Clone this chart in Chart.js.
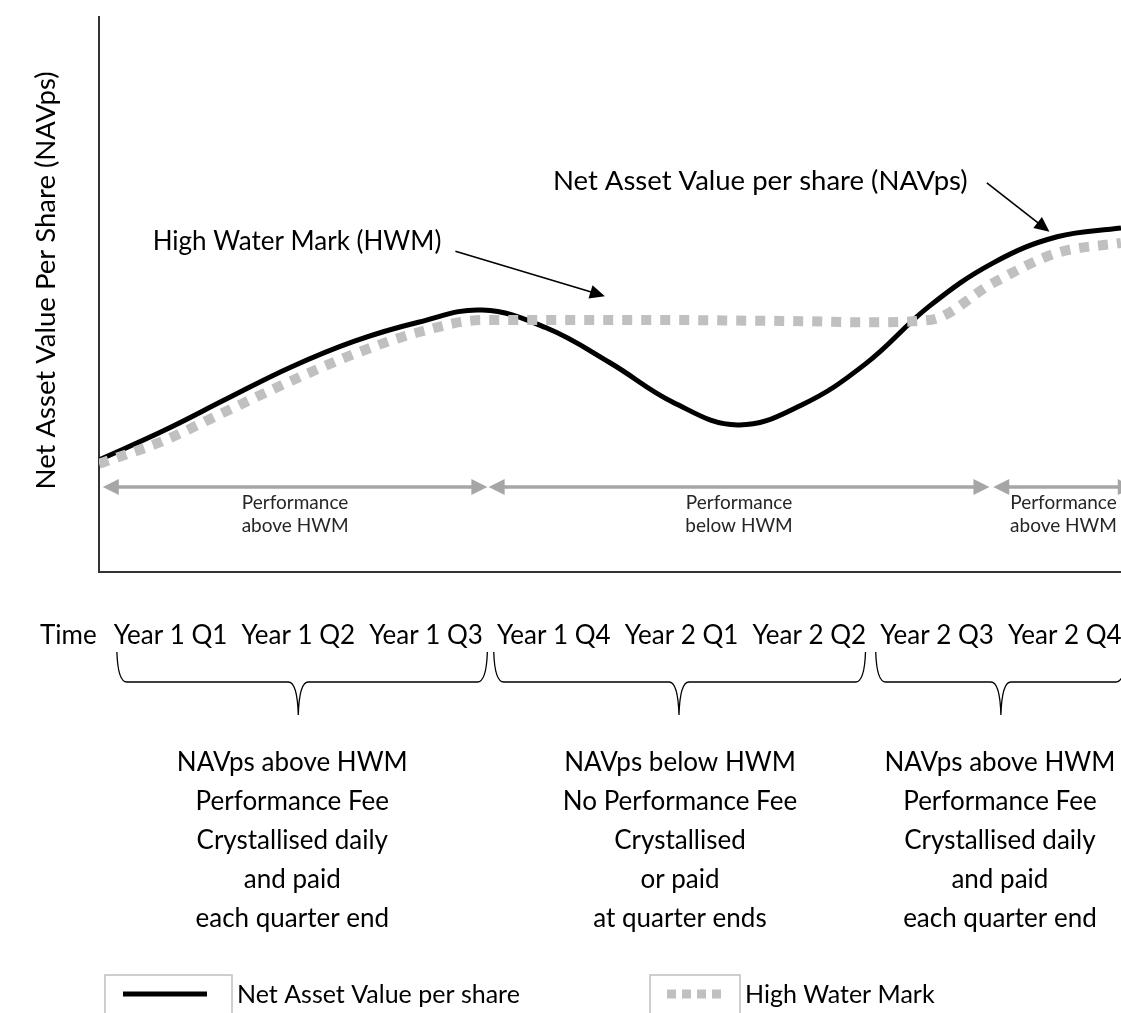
<!DOCTYPE html>
<html>
<head>
<meta charset="utf-8">
<title>NAVps and High Water Mark</title>
<script src="https://cdn.jsdelivr.net/npm/chart.js@4.4.1/dist/chart.umd.min.js"></script>
<style>
  html, body { margin: 0; padding: 0; background: #fff; }
  #wrap { width: 1121px; height: 1013px; }
</style>
</head>
<body>
<div id="wrap"><canvas id="hwmChart" width="1121" height="1013"></canvas></div>
<script>
// posisi waktu dalam kuartal (0 = awal Year 1 Q1)
const quarterPos = [0, 0.5, 1, 1.5, 2, 2.5, 3, 3.5, 4, 4.5, 5, 5.5, 6, 6.5, 7, 7.5, 8];
const navValues = [20.2, 25.4, 31.2, 36.9, 41.6, 45.0, 47.2, 44.0, 37.7, 30.5, 26.5, 30.1, 37.5, 47.9, 55.7, 60.4, 62.0];
const hwmValues = [19.5, 23.6, 29.0, 34.4, 39.3, 43.2, 45.4, 45.4, 45.4, 45.4, 45.3, 45.2, 45.0, 45.4, 52.1, 57.5, 59.3];

const quarterLabels = ['Year 1 Q1', 'Year 1 Q2', 'Year 1 Q3', 'Year 1 Q4', 'Year 2 Q1', 'Year 2 Q2', 'Year 2 Q3', 'Year 2 Q4'];
const quarterLabelPos = [0.56, 1.56, 2.56, 3.56, 4.56, 5.56, 6.56, 7.56];

const zoneRanges = [[0.03, 3.04], [3.05, 6.97], [7.0, 8.1]];
const zoneTexts = [['Performance', 'above HWM'], ['Performance', 'below HWM'], ['Performance', 'above HWM']];

// [awal, tengah, akhir] tiap kurung kurawal
const braceRanges = [[0.14, 1.56, 3.04], [3.09, 4.54, 6.0], [6.08, 7.06, 8.04]];
const feeNotes = [
  ['NAVps above HWM', 'Performance Fee', 'Crystallised daily', 'and paid', 'each quarter end'],
  ['NAVps below HWM', 'No Performance Fee', 'Crystallised', 'or paid', 'at quarter ends'],
  ['NAVps above HWM', 'Performance Fee', 'Crystallised daily', 'and paid', 'each quarter end']
];

const FONT = 'Lato, "Open Sans", sans-serif';

function arrowHead(ctx, x1, y1, x2, y2, len, half, color) {
  const a = Math.atan2(y2 - y1, x2 - x1);
  ctx.fillStyle = color;
  ctx.beginPath();
  ctx.moveTo(x2, y2);
  ctx.lineTo(x2 - len * Math.cos(a) + half * Math.sin(a), y2 - len * Math.sin(a) - half * Math.cos(a));
  ctx.lineTo(x2 - len * Math.cos(a) - half * Math.sin(a), y2 - len * Math.sin(a) + half * Math.cos(a));
  ctx.closePath();
  ctx.fill();
}

// Plugin untuk anotasi, kurung kurawal dan legenda
const extrasPlugin = {
  id: 'extras',
  afterDatasetsDraw(chart) {
    const ctx = chart.ctx;
    const xs = chart.scales.x, ys = chart.scales.y;
    ctx.save();

    // panah abu-abu dua arah
    const yArrow = ys.getPixelForValue(15.3);
    zoneRanges.forEach((r, i) => {
      const x1 = xs.getPixelForValue(r[0]), x2 = xs.getPixelForValue(r[1]);
      ctx.strokeStyle = '#a6a6a6';
      ctx.lineWidth = 3.5;
      ctx.beginPath();
      ctx.moveTo(x1 + 12, yArrow);
      ctx.lineTo(x2 - 12, yArrow);
      ctx.stroke();
      arrowHead(ctx, x2 - 14, yArrow, x1, yArrow, 16, 8, '#a6a6a6');
      arrowHead(ctx, x1 + 14, yArrow, x2, yArrow, 16, 8, '#a6a6a6');
      ctx.fillStyle = '#262626';
      ctx.font = '19px ' + FONT;
      ctx.textAlign = 'center';
      ctx.textBaseline = 'middle';
      const cx = (x1 + x2) / 2;
      ctx.fillText(zoneTexts[i][0], cx, yArrow + 16);
      ctx.fillText(zoneTexts[i][1], cx, yArrow + 39);
    });

    // keterangan dengan panah hitam
    const callouts = [
      { text: 'High Water Mark (HWM)', size: 26, tx: 2.68, ty: 59.6, from: [2.79, 57.8], to: [3.96, 49.7] },
      { text: 'Net Asset Value per share (NAVps)', size: 27.5, tx: 6.80, ty: 70.5, from: [6.95, 70.1], to: [7.44, 61.3] }
    ];
    callouts.forEach(c => {
      ctx.fillStyle = '#000';
      ctx.font = c.size + 'px ' + FONT;
      ctx.textAlign = 'right';
      ctx.textBaseline = 'middle';
      ctx.fillText(c.text, xs.getPixelForValue(c.tx), ys.getPixelForValue(c.ty));
      const x1 = xs.getPixelForValue(c.from[0]), y1 = ys.getPixelForValue(c.from[1]);
      const x2 = xs.getPixelForValue(c.to[0]), y2 = ys.getPixelForValue(c.to[1]);
      ctx.strokeStyle = '#000';
      ctx.lineWidth = 1.6;
      ctx.beginPath();
      ctx.moveTo(x1, y1);
      ctx.lineTo(x2 - (x2 - x1) * 0.08, y2 - (y2 - y1) * 0.08);
      ctx.stroke();
      arrowHead(ctx, x1, y1, x2, y2, 15, 7, '#000');
    });
    ctx.restore();
  },
  afterDraw(chart) {
    const ctx = chart.ctx;
    const xs = chart.scales.x;
    const base = chart.chartArea.bottom;
    ctx.save();

    // label "Time"
    ctx.fillStyle = '#000';
    ctx.font = '26px ' + FONT;
    ctx.textAlign = 'left';
    ctx.textBaseline = 'middle';
    ctx.fillText('Time', 40, base + 64);

    // kurung kurawal
    const yTip = base + 80, yBar = base + 110, yMid = base + 143;
    const noteShift = [-6, 1, -1];
    braceRanges.forEach((r, i) => {
      const x1 = xs.getPixelForValue(r[0]), xm = xs.getPixelForValue(r[1]), x2 = xs.getPixelForValue(r[2]);
      ctx.strokeStyle = '#000';
      ctx.lineWidth = 1.3;
      ctx.beginPath();
      ctx.moveTo(x1, yTip);
      ctx.quadraticCurveTo(x1 + 1, yBar, x1 + 10, yBar);
      ctx.lineTo(xm - 10, yBar);
      ctx.quadraticCurveTo(xm - 1, yBar, xm, yMid);
      ctx.quadraticCurveTo(xm + 1, yBar, xm + 10, yBar);
      ctx.lineTo(x2 - 10, yBar);
      ctx.quadraticCurveTo(x2 - 1, yBar, x2, yTip);
      ctx.stroke();

      ctx.fillStyle = '#000';
      ctx.font = '26px ' + FONT;
      ctx.textAlign = 'center';
      feeNotes[i].forEach((line, k) => {
        ctx.fillText(line, xm + noteShift[i], base + 191 + k * 39);
      });
    });

    // legenda
    const ds = chart.data.datasets;
    const nav = ds.find(d => d.label.startsWith('Net'));
    const hwm = ds.find(d => d.label.startsWith('High'));
    ctx.strokeStyle = '#bfbfbf';
    ctx.lineWidth = 1.5;
    ctx.strokeRect(105, 975, 127, 60);
    ctx.strokeRect(650, 975, 90, 60);
    ctx.strokeStyle = nav.borderColor;
    ctx.lineWidth = nav.borderWidth;
    ctx.beginPath();
    ctx.moveTo(123, 994);
    ctx.lineTo(207, 994);
    ctx.stroke();
    ctx.strokeStyle = hwm.borderColor;
    ctx.lineWidth = 9;
    ctx.setLineDash([9, 6]);
    ctx.beginPath();
    ctx.moveTo(667, 994);
    ctx.lineTo(722, 994);
    ctx.stroke();
    ctx.setLineDash([]);
    ctx.fillStyle = '#000';
    ctx.font = '25px ' + FONT;
    ctx.textAlign = 'left';
    ctx.textBaseline = 'middle';
    ctx.fillText(nav.label, 237, 995);
    ctx.fillText(hwm.label, 745, 995);
    ctx.restore();
  }
};

const ctx = document.getElementById('hwmChart').getContext('2d');
const hwmChart = new Chart(ctx, {
  type: 'line',
  data: {
    datasets: [
      {
        label: 'High Water Mark',
        data: quarterPos.map((q, i) => ({ x: q, y: hwmValues[i] })),
        borderColor: '#c0c0c0',
        borderWidth: 10,
        borderDash: [10, 9],
        borderCapStyle: 'butt',
        pointRadius: 0,
        cubicInterpolationMode: 'monotone',
        order: 0
      },
      {
        label: 'Net Asset Value per share',
        data: quarterPos.map((q, i) => ({ x: q, y: navValues[i] })),
        borderColor: '#000000',
        borderWidth: 5,
        pointRadius: 0,
        tension: 0.4,
        order: 1
      }
    ]
  },
  options: {
    responsive: false,
    animation: false,
    devicePixelRatio: 1,
    layout: { padding: { top: 17, left: 0, right: 0, bottom: 0 } },
    plugins: { legend: { display: false }, tooltip: { enabled: false } },
    scales: {
      x: {
        type: 'linear',
        min: 0,
        max: 8,
        grid: { display: false, drawTicks: false },
        border: { color: '#333333', width: 2 },
        afterBuildTicks: s => { s.ticks = quarterLabelPos.map(v => ({ value: v })); },
        ticks: {
          autoSkip: false,
          maxRotation: 0,
          padding: 48,
          color: '#000',
          font: { family: FONT, size: 26 },
          callback: (v, i) => quarterLabels[i]
        },
        afterFit: s => { s.height = 441; s.paddingLeft = 0; s.paddingRight = 0; }
      },
      y: {
        min: 0,
        max: 100,
        grid: { display: false, drawTicks: false },
        border: { color: '#333333', width: 2 },
        ticks: { display: false },
        title: {
          display: true,
          text: '    Net Asset Value Per Share (NAVps)',
          color: '#000',
          font: { family: FONT, size: 27.5 },
          padding: { top: 30 }
        },
        afterFit: s => { s.width = 99; }
      }
    }
  },
  plugins: [extrasPlugin]
});
</script>
</body>
</html>
